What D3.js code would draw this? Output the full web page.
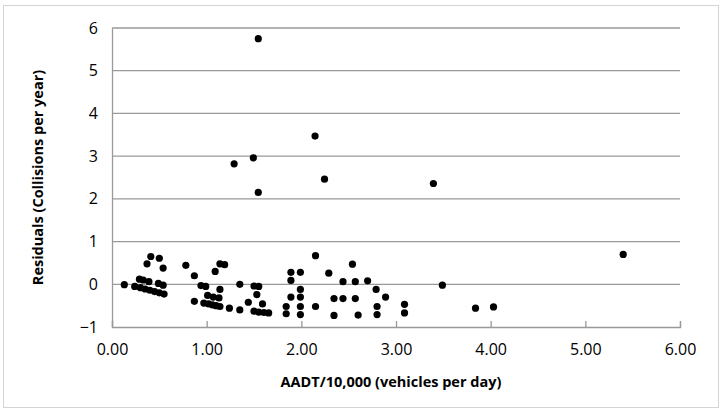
<!DOCTYPE html>
<html>
<head>
<meta charset="utf-8">
<script src="https://cdn.jsdelivr.net/npm/d3@7"></script>
<style>
  body { margin: 0; background: #fff; }
  svg { display: block; font-family: "Open Sans", sans-serif; }
</style>
</head>
<body>
<script>
// AADT/10,000 (x) and residuals (y)
const aadt = [
  0.13, 0.41, 0.50, 0.37, 0.54, 0.29, 0.33, 0.39, 0.49, 0.54,
  0.24, 0.30, 0.35, 0.40, 0.45, 0.50, 0.55,
  0.78, 0.87, 0.87, 0.94, 0.99, 1.09, 1.14, 1.19, 1.14,
  1.01, 1.07, 1.13, 0.97, 1.02, 1.06, 1.10, 1.14,
  1.24, 1.35, 1.35, 1.44, 1.50, 1.55, 1.53, 1.59, 1.50, 1.55, 1.605, 1.655,
  1.89, 1.99, 1.89, 1.99, 1.89, 1.99, 1.84, 1.99, 1.84, 1.99, 2.15, 2.15,
  2.29, 2.54, 2.44, 2.57, 2.70, 2.79, 2.89, 2.345, 2.44, 2.57, 2.80, 2.345, 2.60, 2.80,
  3.09, 3.09, 3.49, 3.84, 4.03, 3.395, 5.40,
  1.545, 2.145, 1.493, 1.29, 2.245, 1.545
];
const residuals = [
  -0.01, 0.65, 0.61, 0.48, 0.38, 0.12, 0.10, 0.06, 0.02, -0.02,
  -0.05, -0.08, -0.11, -0.14, -0.17, -0.20, -0.23,
  0.445, 0.20, -0.40, -0.03, -0.05, 0.30, 0.48, 0.46, -0.12,
  -0.26, -0.30, -0.32, -0.44, -0.46, -0.48, -0.50, -0.52,
  -0.56, 0.0, -0.60, -0.42, -0.04, -0.05, -0.24, -0.46, -0.63, -0.65, -0.66, -0.67,
  0.28, 0.28, 0.09, -0.12, -0.30, -0.30, -0.52, -0.52, -0.69, -0.71, 0.67, -0.52,
  0.26, 0.47, 0.06, 0.06, 0.08, -0.12, -0.30, -0.335, -0.335, -0.335, -0.52, -0.73, -0.72, -0.71,
  -0.47, -0.67, -0.02, -0.56, -0.53, 2.36, 0.70,
  5.75, 3.47, 2.96, 2.82, 2.46, 2.15
];
const xTicks = [0, 1, 2, 3, 4, 5, 6];
const yTicks = [-1, 0, 1, 2, 3, 4, 5, 6];

const w = 724;
const h = 410;
const plotLeft = 112, plotRight = 680, plotTop = 28, plotBottom = 327;

const svg = d3.select("body").append("svg").attr("width", w).attr("height", h);

svg.append("rect")
  .attr("x", 3.5).attr("y", 5.5)
  .attr("width", 715).attr("height", 402)
  .attr("fill", "#fff")
  .attr("stroke", "#d4d4d4");

const xScale = d3.scaleLinear().domain([0, 6]).range([plotLeft, plotRight]);
const yScale = d3.scaleLinear().domain([-1, 6]).range([plotBottom, plotTop]);

// horizontal gridlines
svg.append("g")
  .selectAll("line")
  .data(yTicks.filter((d) => d > -1))
  .enter()
  .append("line")
  .attr("x1", plotLeft)
  .attr("x2", plotRight)
  .attr("y1", (d) => yScale(d))
  .attr("y2", (d) => yScale(d))
  .attr("stroke", "#999")
  .attr("stroke-width", 1.3);

const yAxis = d3.axisLeft(yScale).tickValues(yTicks).tickSize(0).tickPadding(14)
  .tickFormat(d3.format("d"));
const gy = svg.append("g")
  .attr("transform", `translate(${plotLeft}, 0)`)
  .call(yAxis);
gy.select(".domain").attr("stroke", "#999").attr("stroke-width", 1.3);
gy.selectAll("text").attr("font-size", 16).attr("fill", "#000")
  .attr("font-family", "Open Sans");

const xAxis = d3.axisBottom(xScale).tickValues(xTicks).tickSize(-6).tickPadding(17)
  .tickFormat(d3.format(".2f"));
const gx = svg.append("g")
  .attr("transform", `translate(0, ${plotBottom})`)
  .call(xAxis);
gx.select(".domain").attr("stroke", "#999").attr("stroke-width", 1.3);
gx.selectAll("line").attr("stroke", "#999").attr("stroke-width", 1.3);
gx.selectAll("text").attr("font-size", 16).attr("fill", "#000")
  .attr("font-family", "Open Sans");

svg.append("g")
  .selectAll("circle")
  .data(aadt.map((d, i) => [d, residuals[i]]))
  .enter()
  .append("circle")
  .attr("cx", (d) => xScale(d[0]))
  .attr("cy", (d) => yScale(d[1]))
  .attr("r", 3.6)
  .attr("fill", "#000");

svg.append("text")
  .attr("x", (plotLeft + plotRight) / 2 - 5)
  .attr("y", 387)
  .attr("text-anchor", "middle")
  .attr("font-size", 14.5)
  .attr("font-weight", "bold")
  .text("AADT/10,000 (vehicles per day)");

svg.append("text")
  .attr("transform", `translate(43, ${(plotTop + plotBottom) / 2}) rotate(-90)`)
  .attr("text-anchor", "middle")
  .attr("font-size", 14.5)
  .attr("font-weight", "bold")
  .text("Residuals (Collisions per year)");
</script>
</body>
</html>
